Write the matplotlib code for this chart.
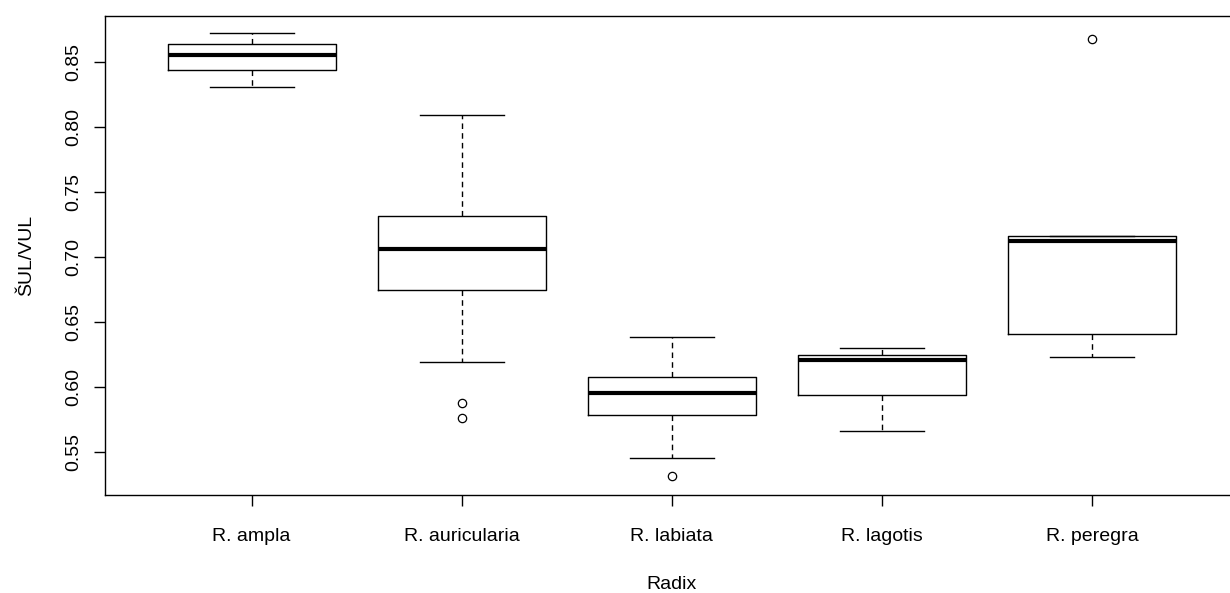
import numpy as np
import matplotlib
matplotlib.use('Agg')
import matplotlib.pyplot as plt

plt.rcParams['font.family'] = ['Liberation Sans', 'DejaVu Sans']

# Ringkasan boxplot per spesies Radix (rasio ŠUL/VUL)
species = ['R. ampla', 'R. auricularia', 'R. labiata', 'R. lagotis', 'R. peregra']
whisker_lo = [0.8308, 0.6192, 0.5452, 0.5664, 0.6233]
q1 = [0.8438, 0.6746, 0.5785, 0.5936, 0.6408]
median = [0.8554, 0.7062, 0.5954, 0.6210, 0.7123]
q3 = [0.8638, 0.7315, 0.6077, 0.6246, 0.7162]
whisker_hi = [0.8723, 0.8092, 0.6385, 0.6298, 0.7162]
outliers = [[], [0.5877, 0.5762], [0.5318], [], [0.8675]]

stats = []
for i, name in enumerate(species):
    stats.append(dict(label=name, med=median[i], q1=q1[i], q3=q3[i],
                      whislo=whisker_lo[i], whishi=whisker_hi[i],
                      fliers=outliers[i]))

fig = plt.figure(figsize=(12.3, 5.93), dpi=100)
ax = fig.add_axes([104.5 / 1230, 98 / 593, (1239 - 104.5) / 1230, 479 / 593])

ax.bxp(stats, positions=range(1, 6), widths=0.8, capwidths=0.4,
       boxprops=dict(color='black', linewidth=1.0),
       medianprops=dict(color='black', linewidth=3.0, solid_capstyle='butt'),
       whiskerprops=dict(color='black', linewidth=1.0, linestyle=(0, (4, 3))),
       capprops=dict(color='black', linewidth=1.0),
       flierprops=dict(marker='o', markerfacecolor='none', markeredgecolor='black',
                       markersize=6, markeredgewidth=0.9))

ax.set_xlim(0.3, 5.7)
ax.set_ylim(0.5169, 0.8854)
ax.set_yticks([0.55, 0.60, 0.65, 0.70, 0.75, 0.80, 0.85])
ax.set_yticklabels(['0.55', '0.60', '0.65', '0.70', '0.75', '0.80', '0.85'],
                   rotation=90, va='center')
ax.set_xticks(range(1, 6))
ax.set_xticklabels(species)
ax.tick_params(axis='both', length=8, width=1.0, labelsize=14, colors='black')
ax.tick_params(axis='x', pad=16)
ax.tick_params(axis='y', pad=8)
for s in ax.spines.values():
    s.set_linewidth(1.0)

ax.set_xlabel('Radix', fontsize=14, labelpad=22)
ax.set_ylabel('ŠUL/VUL', fontsize=14, labelpad=22)

plt.savefig('out.png', dpi=100)
